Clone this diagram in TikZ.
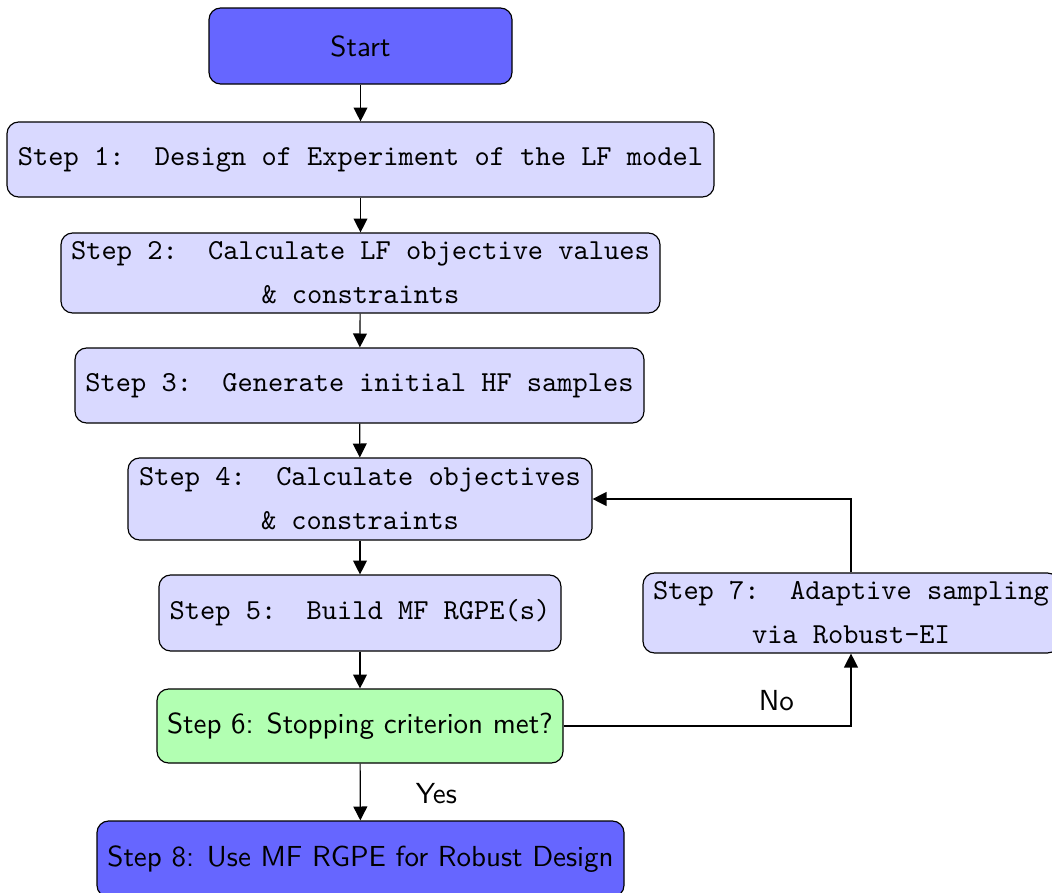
\documentclass[tikz,border=0pt]{standalone}
\usetikzlibrary{arrows.meta}
\begin{document}
\begin{tikzpicture}[
  x=0.3448pt, y=-0.3448pt,
  box/.style={draw, rounded corners=4pt, line width=0.4pt, inner sep=0pt, align=center},
  termbox/.style={box, fill=blue!60, font=\sffamily},
  stepbox/.style={box, fill=blue!15, font=\ttfamily},
  testbox/.style={box, fill=green!30, font=\sffamily},
  flow/.style={-{Triangle[length=4.8pt,width=4.8pt]}, line width=0.4pt},
  lbl/.style={font=\sffamily, inner sep=2pt}
]
\useasboundingbox (0,0) rectangle (1052,893);

\node[termbox, minimum width=303*0.3448pt, minimum height=76*0.3448pt] (start) at (360.5,46) {Start};
\node[stepbox, minimum width=707*0.3448pt, minimum height=75*0.3448pt] (s1) at (360.5,159.5)
  {Step 1:\ \ Design of Experiment of the LF model};
\node[stepbox, minimum width=599*0.3448pt, minimum height=80*0.3448pt] (s2) at (360.5,273)
  {Step 2:\ \ Calculate LF objective values\\[3.2pt] \& constraints};
\node[stepbox, minimum width=569*0.3448pt, minimum height=75*0.3448pt] (s3) at (359.5,385.5)
  {Step 3:\ \ Generate initial HF samples};
\node[stepbox, minimum width=464*0.3448pt, minimum height=82*0.3448pt] (s4) at (360,499)
  {Step 4:\ \ Calculate objectives\\[3.2pt] \& constraints};
\node[stepbox, minimum width=402*0.3448pt, minimum height=76*0.3448pt] (s5) at (360,613)
  {Step 5:\ \ Build MF RGPE(s)};
\node[testbox, minimum width=406*0.3448pt, minimum height=74*0.3448pt] (s6) at (360,726)
  {Step 6: Stopping criterion met?};
\node[stepbox, minimum width=416*0.3448pt, minimum height=80*0.3448pt] (s7) at (851,613)
  {Step 7:\ \ Adaptive sampling\\[3.2pt] via Robust-EI};
\node[termbox, minimum width=527*0.3448pt, minimum height=76*0.3448pt] (s8) at (360.5,859)
  {Step 8: Use MF RGPE for Robust Design};

\draw[flow] (start) -- (s1);
\draw[flow] (s1) -- (s2);
\draw[flow] (s2) -- (s3);
\draw[flow] (s3) -- (s4);
\draw[flow] (s4) -- (s5);
\draw[flow] (s5) -- (s6);
\draw[flow] (s6) -- node[lbl, pos=0.52, right=17pt] {Yes} (s8);
\draw[flow] (s6.east) -| node[lbl, pos=0.37, above=3pt] {No} (s7.south);
\draw[flow] (s7.north) |- (s4.east);
\end{tikzpicture}
\end{document}
